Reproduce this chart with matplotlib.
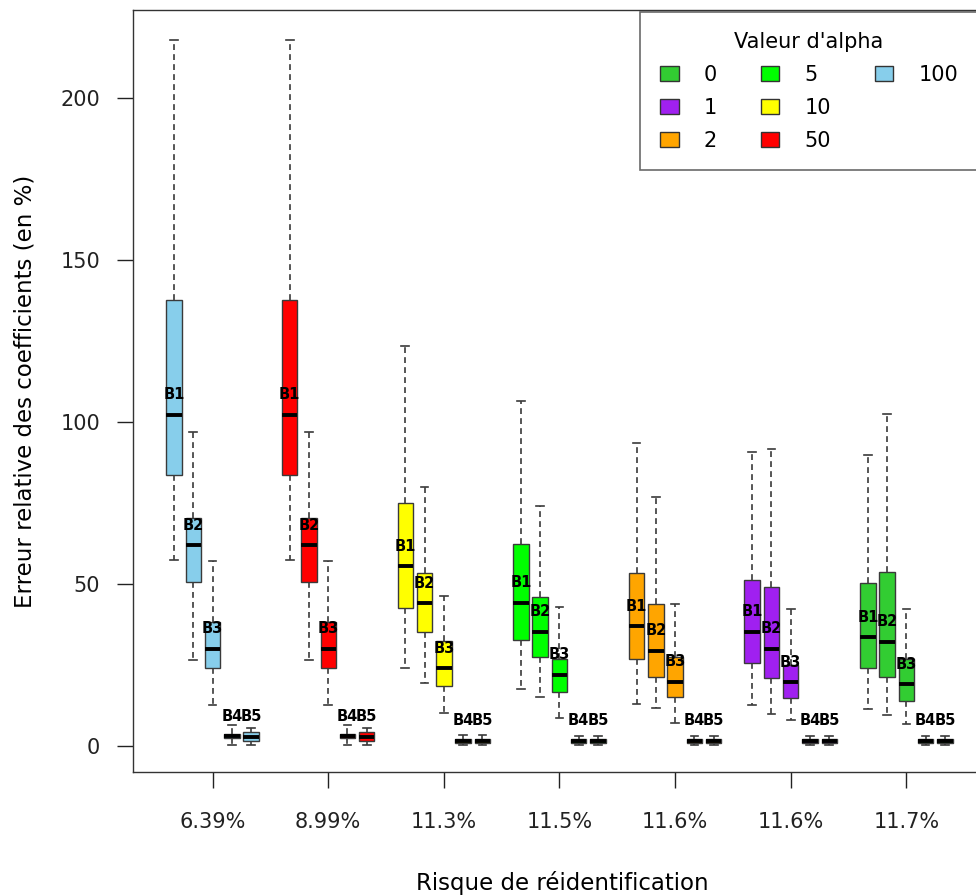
import matplotlib.pyplot as plt
from matplotlib.patches import Patch

# risque de réidentification (un groupe de boîtes par valeur d'alpha)
risques = ["6.39%", "8.99%", "11.3%", "11.5%", "11.6%", "11.6%", "11.7%"]
alphas_groupes = [100, 50, 10, 5, 2, 1, 0]
couleurs_groupes = ["#87CEEB", "#FF0000", "#FFFF00", "#00FF00", "#FFA500", "#A020F0", "#32CD32"]
coefs = ["B1", "B2", "B3", "B4", "B5"]

# légende
alphas_legende = [0, 1, 2, 5, 10, 50, 100]
couleurs_legende = ["#32CD32", "#A020F0", "#FFA500", "#00FF00", "#FFFF00", "#FF0000", "#87CEEB"]

# statistiques des boîtes, une ligne par groupe, colonnes B1..B5
moust_haut = [
    [218, 96.8, 57.1, 6.5, 5.6],
    [218, 96.8, 57.1, 6.5, 5.6],
    [123.5, 80, 46.3, 3.4, 3.4],
    [106.6, 74.1, 43, 3.1, 3.1],
    [93.4, 76.9, 43.8, 3.1, 3.1],
    [90.8, 91.6, 42.2, 3.1, 3.1],
    [89.8, 102.5, 42.2, 3.1, 3.1],
]
q3 = [
    [137.6, 70.3, 38.4, 3.6, 4.2],
    [137.6, 70.3, 38.4, 3.6, 4.2],
    [75, 53.4, 32.5, 2.2, 2.2],
    [62.3, 45.9, 26.8, 2.2, 2.2],
    [53.3, 43.7, 27.6, 2.2, 2.2],
    [51.4, 49.2, 25, 2.2, 2.2],
    [50.4, 53.8, 26.8, 2.2, 2.2],
]
mediane = [
    [102.2, 62, 30.1, 3, 2.8],
    [102.2, 62, 30.1, 3, 2.8],
    [55.5, 44, 24, 1.6, 1.6],
    [44.2, 35.2, 21.9, 1.6, 1.6],
    [37, 29.3, 19.8, 1.6, 1.6],
    [35.3, 30.1, 19.7, 1.6, 1.6],
    [33.5, 32.2, 19.1, 1.6, 1.6],
]
q1 = [
    [83.6, 50.5, 24, 2.4, 1.5],
    [83.6, 50.5, 24, 2.4, 1.5],
    [42.6, 35.2, 18.6, 1.0, 1.0],
    [32.7, 27.6, 16.8, 1.0, 1.0],
    [26.8, 21.4, 15, 1.0, 1.0],
    [25.5, 20.9, 14.7, 1.0, 1.0],
    [24, 21.4, 14, 1.0, 1.0],
]
moust_bas = [
    [57.4, 26.5, 12.7, 0.3, 0.3],
    [57.4, 26.5, 12.7, 0.3, 0.3],
    [24, 19.4, 10.2, 0.2, 0.2],
    [17.5, 15, 8.5, 0.2, 0.2],
    [13, 11.6, 7.2, 0.2, 0.2],
    [12.7, 9.9, 8, 0.2, 0.2],
    [11.3, 9.6, 6.8, 0.2, 0.2],
]

plt.rcParams['font.family'] = ['DejaVu Sans']

fig = plt.figure(figsize=(9.76, 8.96), dpi=100)
ax = fig.add_axes([133 / 976, 1 - 772 / 896, 857 / 976, 762 / 896])

stats, positions, couleurs = [], [], []
for g in range(len(risques)):
    for b in range(len(coefs)):
        stats.append(dict(med=mediane[g][b], q1=q1[g][b], q3=q3[g][b],
                          whislo=moust_bas[g][b], whishi=moust_haut[g][b],
                          fliers=[], label=coefs[b]))
        positions.append(6 * g + b + 1)
        couleurs.append(couleurs_groupes[g])

bp = ax.bxp(stats, positions=positions, widths=0.8, capwidths=0.4,
            patch_artist=True, showfliers=False, manage_ticks=False,
            boxprops=dict(edgecolor="#3a3a3a", linewidth=1),
            medianprops=dict(color="black", linewidth=2.8, solid_capstyle="butt"),
            whiskerprops=dict(color="#3a3a3a", linewidth=1.2, linestyle=(0, (3.5, 2.5))),
            capprops=dict(color="#3a3a3a", linewidth=1.2))
for box, c in zip(bp["boxes"], couleurs):
    box.set_facecolor(c)

for s, x in zip(stats, positions):
    ax.annotate(s["label"], (x, s["med"]), xytext=(0, 14.5), textcoords="offset points",
                ha="center", va="center", fontsize=10.5, fontweight="bold")

ax.set_xlim(-1.13, 43.34)
ax.set_ylim(-8.02, 227.2)
ax.set_yticks([0, 50, 100, 150, 200])
ax.set_xticks([6 * g + 3 for g in range(len(risques))])
ax.set_xticklabels(risques)
ax.tick_params(axis="both", length=11.5, width=1, labelsize=15, colors="#222222")
ax.tick_params(axis="x", pad=17)
ax.tick_params(axis="y", pad=12)
for sp in ax.spines.values():
    sp.set_linewidth(1)
    sp.set_color("#333333")

fig.text(562 / 976, 1 - 883 / 896, "Risque de réidentification", ha="center", va="center", fontsize=16.5)
fig.text(25 / 976, 1 - 391 / 896, "Erreur relative des coefficients (en %)", ha="center", va="center",
         rotation=90, fontsize=16.5)

handles = [Patch(facecolor=c, edgecolor="#333333") for c in couleurs_legende]
labels = [str(a) for a in alphas_legende]
handles += [Patch(visible=False), Patch(visible=False)]
labels += ["", ""]
leg = fig.legend(handles, labels, ncol=3, loc="upper left", bbox_to_anchor=(640 / 976, 1 - 12 / 896),
                 bbox_transform=fig.transFigure, borderaxespad=0, title="Valeur d'alpha",
                 fontsize=15, title_fontsize=15, frameon=True, fancybox=False,
                 handlelength=0.9, handleheight=0.7, handletextpad=1.2, columnspacing=2.1,
                 labelspacing=0.62, borderpad=0.95)
leg.get_frame().set_edgecolor("#444444")
leg.get_frame().set_linewidth(1.2)

fig.savefig("out.png", dpi=100)
